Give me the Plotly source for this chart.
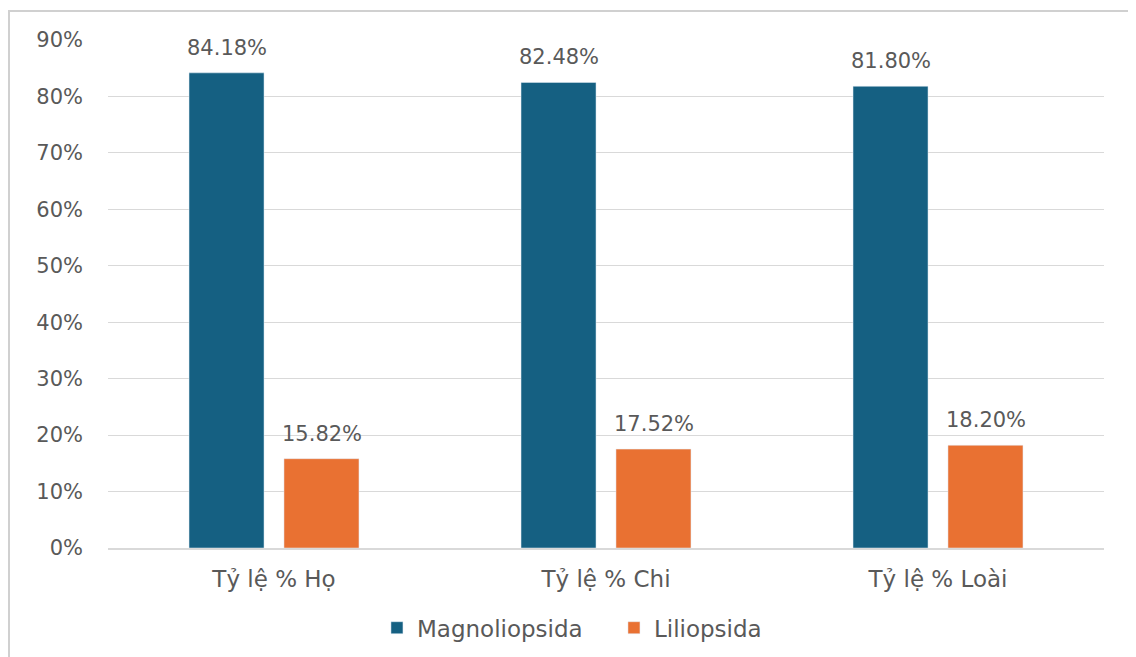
import plotly.graph_objects as go

categories = ["Tỷ lệ % Họ", "Tỷ lệ % Chi", "Tỷ lệ % Loài"]
magnoliopsida = [84.18, 82.48, 81.80]
liliopsida = [15.82, 17.52, 18.20]
y_ticks = [0, 10, 20, 30, 40, 50, 60, 70, 80, 90]

FONT = "DejaVu Sans, sans-serif"
GREY = "#595959"
BLUE = "#156082"
ORANGE = "#E97132"

fig = go.Figure()
fig.add_bar(x=categories, y=magnoliopsida, name="Magnoliopsida", marker_color=BLUE)
fig.add_bar(x=categories, y=liliopsida, name="Liliopsida", marker_color=ORANGE)

# value labels sit a bit higher above the bars than plotly's "outside" text
annotations = []
for series, shift in [(magnoliopsida, -47.5), (liliopsida, 47.5)]:
    for cat, val in zip(categories, series):
        annotations.append(dict(
            x=cat, y=val, text=f"{val:.2f}%", showarrow=False,
            xshift=shift, yshift=11, yanchor="bottom",
            font=dict(size=21, color=GREY, family=FONT),
        ))

fig.update_layout(
    width=1136, height=657,
    margin=dict(l=100, r=40, t=32, b=117),
    paper_bgcolor="white", plot_bgcolor="white",
    barmode="group", bargap=0.428, bargroupgap=0.21,
    font=dict(family=FONT, size=21, color=GREY),
    showlegend=True,
    legend=dict(orientation="h", x=0.508, xanchor="center", y=-0.157, yanchor="middle",
                font=dict(size=23, color=GREY), itemwidth=30,
                entrywidth=192),
    yaxis=dict(range=[0, 90], tickvals=y_ticks, ticktext=[f"{t}%" for t in y_ticks],
               gridcolor="#d9d9d9", gridwidth=1, zeroline=False, ticks="",
               showline=False, ticklabelstandoff=24, tickfont=dict(size=21, color=GREY)),
    xaxis=dict(showline=True, linecolor="#d9d9d9", linewidth=1.5, ticks="",
               ticklabelstandoff=10, tickfont=dict(size=23, color=GREY)),
    annotations=annotations,
    shapes=[dict(type="rect", xref="paper", yref="paper",
                 x0=-0.0994, x1=1.031, y0=-0.25, y1=1.057,
                 line=dict(color="#d0d0d0", width=2))],
)

fig.write_html("out.html")
